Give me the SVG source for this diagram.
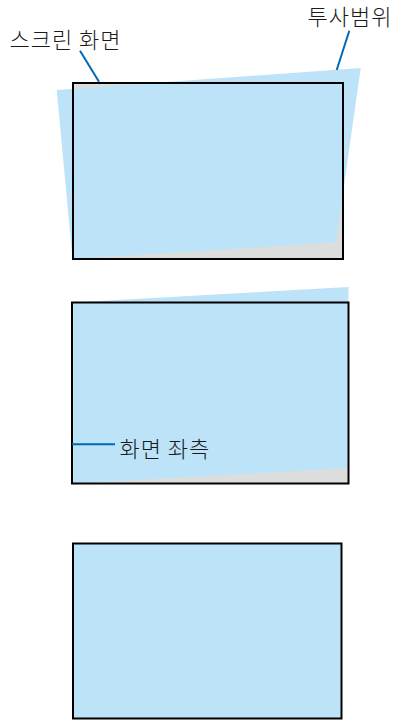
<svg xmlns="http://www.w3.org/2000/svg" width="401" height="720" viewBox="0 0 401 720">
<style>
.scr{fill:#dcdddd;stroke:none}
.proj{fill:#bde3f8;stroke:none}
.frame{fill:none;stroke:#000;stroke-width:2}
.lead{stroke:#0068b7;stroke-width:2;fill:none}
.lbl{font-family:"Noto Sans CJK KR","Noto Sans",sans-serif;font-size:22px;font-weight:300;letter-spacing:1px;fill:#1a1a1a}
</style>
<rect width="401" height="720" fill="#fff"/>
<g id="top">
<rect class="scr" x="73" y="83" width="270" height="176"/>
<polygon class="proj" points="56.7,90 360.7,68 336,242.3 74,259 72.5,259"/>
<rect class="frame" x="73" y="83" width="270" height="176"/>
</g>
<g id="middle">
<rect class="scr" x="72" y="302.5" width="276.5" height="181"/>
<polygon class="proj" points="72,302.5 348.5,287 348.5,468 72,483.5"/>
<rect class="frame" x="72" y="302.5" width="276.5" height="181"/>
</g>
<g id="bottom">
<rect class="proj" x="73" y="543.5" width="268.5" height="175"/>
<rect class="frame" x="73" y="543.5" width="268.5" height="175"/>
</g>
<g id="connectors">
<line class="lead" x1="80" y1="50.7" x2="99" y2="81.7"/>
<line class="lead" x1="349.3" y1="30.7" x2="336.7" y2="70"/>
<line class="lead" x1="72" y1="444.3" x2="115" y2="444.3"/>
</g>
<g id="labels">
<text class="lbl" x="9.5" y="48">스크린 화면</text>
<text class="lbl" x="307.5" y="25">투사범위</text>
<text class="lbl" x="119.5" y="456.5">화면 좌측</text>
</g>
</svg>
